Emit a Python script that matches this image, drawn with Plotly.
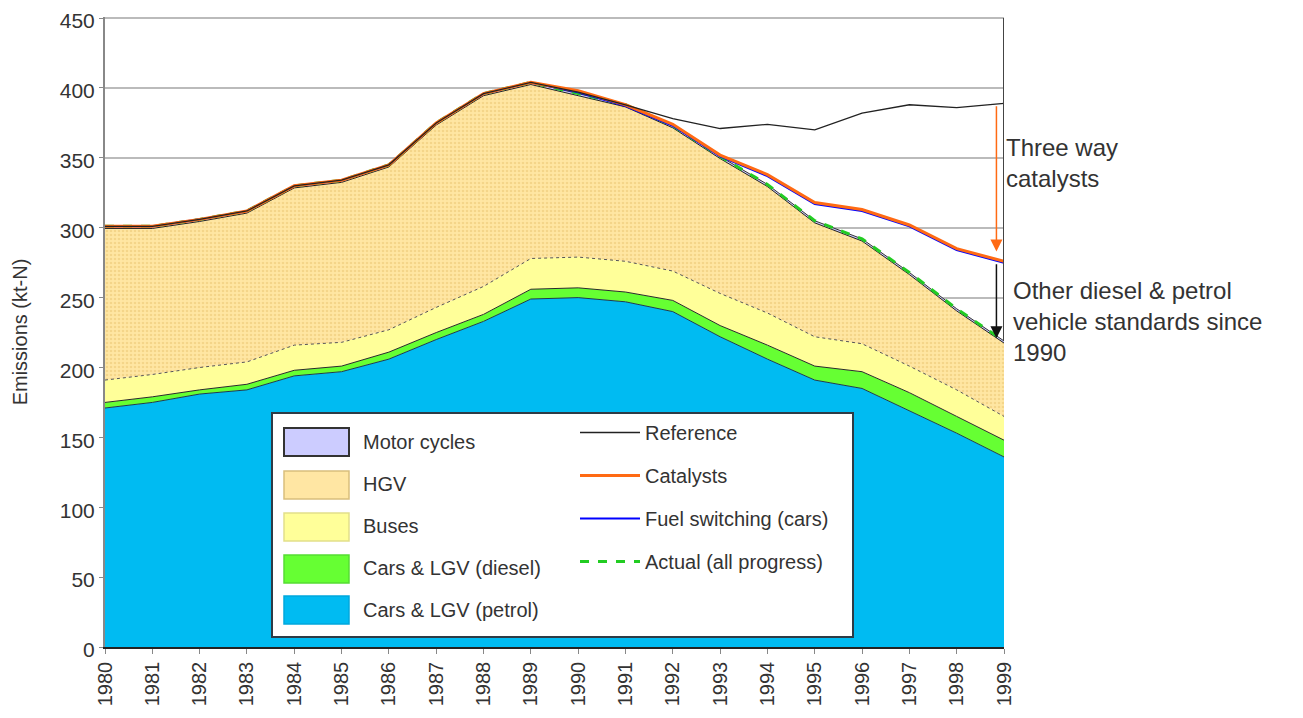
import plotly.graph_objects as go

# ---- data (kt-N) ----
years = list(range(1980, 2000))

# stacked layers, bottom to top
petrol = [171, 175, 181, 184, 194, 197, 206, 220, 233, 249, 250, 247, 240, 222, 206, 191, 185, 169, 153, 136]
diesel = [4, 4, 3, 4, 4, 4, 5, 5, 5, 7, 7, 7, 8, 8, 10, 10, 12, 13, 12, 12]
buses = [16, 16, 16, 16, 18, 17, 16, 18, 20, 22, 22, 22, 21, 23, 23, 21, 20, 19, 19, 17]
hgv = [108.5, 104.5, 104.5, 106.5, 112.5, 114.5, 116.5, 130.5, 136.5, 124.5, 115.5, 110.5,
       102.5, 96.5, 90.5, 81.5, 73.5, 65.5, 56.5, 52.5]
motor_cycles = [1.5, 1.5, 1.5, 1.5, 1.5, 1.5, 1.5, 1.5, 1.5, 1.5, 1.5, 1.5,
                1.5, 1.5, 1.5, 1.5, 1.5, 1.5, 1.5, 1.5]

# scenario lines
reference = [301, 301, 306, 312, 330, 334, 345, 375, 396, 404, 397, 388, 378, 371, 374, 370, 382, 388, 386, 389]
catalysts = [301, 301, 306, 312, 330, 334, 345, 375, 396, 404, 398, 388, 374, 352, 338, 318, 313, 302, 285, 276]
fuel_switching = [301, 301, 306, 312, 330, 334, 345, 375, 396, 404, 397, 387, 373, 351, 337, 317, 312, 301, 284, 275]
actual = [301, 301, 306, 312, 330, 334, 345, 375, 396, 404, 396, 388, 373, 351, 331, 305, 292, 268, 242, 219]

FONT = "Liberation Sans, Arial, sans-serif"
TXT = "#333333"

# page geometry (the html body adds an 8px margin round the figure)
W, H = 1295, 710
ML, MR, MT, MB = 97, 299, 9, 71
PLOT_W = W - ML - MR
PLOT_H = H - MT - MB


def px_x(px):
    # page pixel -> paper x
    return (px - 8 - ML) / PLOT_W


def px_y(py):
    # page pixel -> paper y
    return (H - MB - (py - 8)) / PLOT_H


fig = go.Figure()

# stacked areas
areas = [
    ("Cars & LGV (petrol)", petrol, "#00BBF2", dict(color="#1d3a4f", width=1), None, "#00A8DD"),
    ("Cars & LGV (diesel)", diesel, "#66FF33", dict(color="#2a2a2a", width=1), None, "#55DD33"),
    ("Buses", buses, "#FFFF99", dict(color="#555555", width=1, dash="dot"), None, "#E2E08A"),
    ("HGV", hgv, "#FFE6A3", dict(color="#222222", width=1),
     dict(shape=".", fgcolor="#E9C46F", bgcolor="#FFE6A3", size=4, solidity=0.35), "#D9BE7C"),
    ("Motor cycles", motor_cycles, "#CCCCFF", dict(color="#333333", width=1), None, "#333333"),
]
for name, vals, col, line, pat, _ in areas:
    kw = dict(fillpattern=pat) if pat else {}
    fig.add_trace(go.Scatter(
        x=years, y=vals, name=name, mode="lines",
        stackgroup="stack", fillcolor=col, line=line,
        showlegend=False, **kw,
    ))

# legend entries for the areas (swatches drawn as shapes below)
for rank, (name, vals, col, line, pat, _) in enumerate(areas):
    fig.add_trace(go.Scatter(
        x=[None], y=[None], name=name, mode="markers",
        marker=dict(color="rgba(0,0,0,0)", size=2),
        legend="legend", legendgroup=name, legendrank=100 - rank,
    ))

# scenario lines (legend 2), drawn bottom to top
lines = [
    ("Actual (all progress)", actual, dict(color="#22CC22", width=3, dash="dash"), 4),
    ("Fuel switching (cars)", fuel_switching, dict(color="#0000FF", width=2), 3),
    ("Catalysts", catalysts, dict(color="#FF6A13", width=3), 2),
    ("Reference", reference, dict(color="#222222", width=1.3), 1),
]
for name, vals, line, rank in lines:
    fig.add_trace(go.Scatter(
        x=years, y=vals, name=name, mode="lines", line=line,
        legend="legend2", legendgroup=name, legendrank=rank,
    ))

# vertical marker at the last year
fig.add_shape(type="line", x0=years[-1], x1=years[-1], y0=actual[-1], y1=450,
              line=dict(color="#444444", width=2), layer="above")

# legend frame
fig.add_shape(type="rect", xref="paper", yref="paper",
              x0=px_x(272), x1=px_x(853), y0=px_y(637), y1=px_y(413),
              fillcolor="white", line=dict(color="#2e3b46", width=2), layer="above")

# legend swatches, top row first
row_centres = [442, 485, 527, 569, 610]
for (name, vals, col, line, pat, edge), cy in zip(areas[::-1], row_centres):
    fig.add_shape(type="rect", xref="paper", yref="paper",
                  x0=px_x(284), x1=px_x(349), y0=px_y(cy + 14), y1=px_y(cy - 14),
                  fillcolor=col, line=dict(color=edge, width=2 if name == "Motor cycles" else 1.5),
                  layer="above")

# arrows
arrow_x = years[-1] - 0.16
fig.add_annotation(x=arrow_x, y=catalysts[-1] + 7, ax=arrow_x, ay=reference[-1] - 1,
                   xref="x", yref="y", axref="x", ayref="y", showarrow=True, text="",
                   arrowhead=2, arrowsize=1.6, arrowwidth=1.5, arrowcolor="#FF6A13")
fig.add_annotation(x=arrow_x, y=actual[-1] + 2, ax=arrow_x, ay=fuel_switching[-1],
                   xref="x", yref="y", axref="x", ayref="y", showarrow=True, text="",
                   arrowhead=2, arrowsize=1.6, arrowwidth=1.5, arrowcolor="#111111")

fig.add_annotation(x=px_x(1004), y=px_y(163), xref="paper", yref="paper",
                   xanchor="left", yanchor="middle",
                   text="Three way<br>catalysts", showarrow=False, align="left",
                   bgcolor="white", font=dict(size=24, color=TXT, family=FONT))
fig.add_annotation(x=px_x(1011), y=px_y(322), xref="paper", yref="paper",
                   xanchor="left", yanchor="middle",
                   text="Other diesel & petrol<br>vehicle standards since<br>1990", showarrow=False,
                   align="left", bgcolor="white", font=dict(size=24, color=TXT, family=FONT))

fig.update_xaxes(
    range=[years[0], years[-1]], tickmode="array", tickvals=years,
    ticktext=[str(y) for y in years], tickangle=-90,
    showgrid=False, showline=True, linecolor="#222222", linewidth=1.5,
    ticks="outside", ticklen=5, tickcolor="#888888",
    tickfont=dict(size=20, color=TXT, family=FONT), automargin=False,
    ticklabeloverflow="allow",
)
fig.update_yaxes(
    range=[0, 450.8], tickvals=[0, 50, 100, 150, 200, 250, 300, 350, 400, 450],
    showgrid=True, gridcolor="#BBBBBB", gridwidth=1.5,
    showline=True, linecolor="#888888", linewidth=2,
    ticks="outside", ticklen=4, tickcolor="#888888",
    tickfont=dict(size=21, color=TXT, family=FONT), ticklabelshift=3,
    title=dict(text="Emissions (kt-N)", font=dict(size=20, color=TXT, family=FONT), standoff=27),
    zeroline=False, automargin=False, ticklabeloverflow="allow",
)

fig.update_layout(
    width=W, height=H,
    margin=dict(l=ML, r=MR, t=MT, b=MB, autoexpand=False),
    plot_bgcolor="white", paper_bgcolor="white",
    font=dict(family=FONT, color=TXT),
    legend=dict(x=px_x(323), y=px_y(422), xanchor="left", yanchor="top", bgcolor="rgba(0,0,0,0)",
                traceorder="grouped", tracegroupgap=13, itemwidth=30,
                font=dict(size=20, color=TXT, family=FONT)),
    legend2=dict(x=px_x(575), y=px_y(413), xanchor="left", yanchor="top", bgcolor="rgba(0,0,0,0)",
                 traceorder="grouped", tracegroupgap=14, itemwidth=60,
                 font=dict(size=20, color=TXT, family=FONT)),
    showlegend=True,
)

fig.write_html("out.html")
